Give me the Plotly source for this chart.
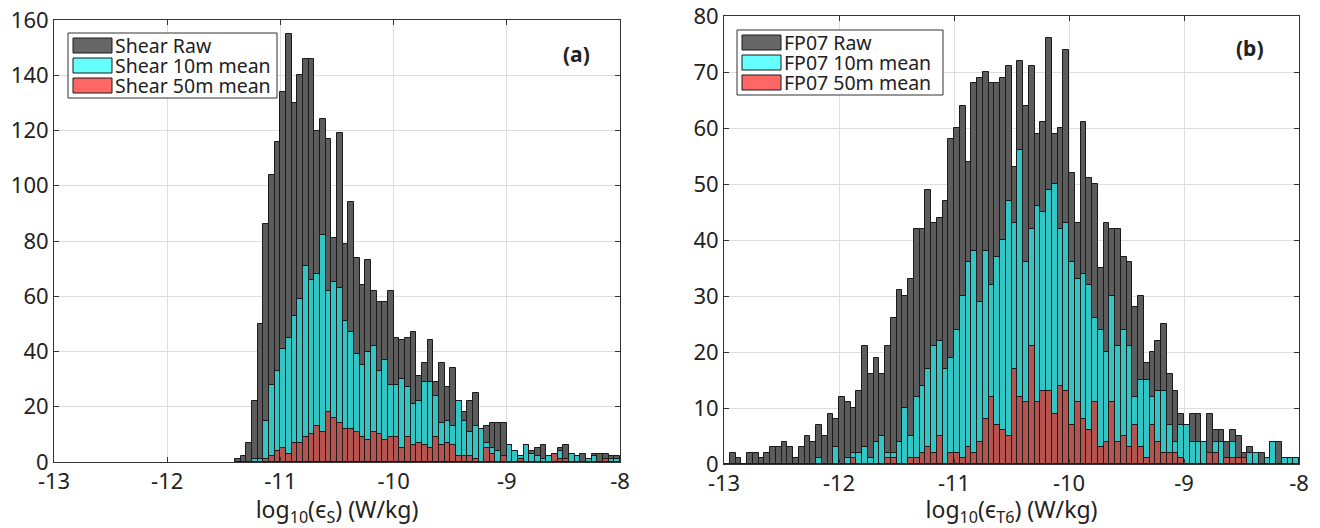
import plotly.graph_objects as go

BIN = 0.05

# panel (a): shear, bins start at -11.40
A_START = -11.40
shear_raw = [1, 2, 7, 22, 50, 86, 104, 116, 134, 155,
             130, 140, 146, 146, 120, 124, 117, 81, 119, 79,
             94, 74, 64, 73, 62, 58, 58, 62, 45, 44,
             45, 47, 31, 36, 44, 29, 36, 27, 34, 22,
             18, 22, 25, 12, 13, 14, 14, 14, 6, 4,
             2, 6, 4, 5, 6, 2, 3, 5, 6, 3,
             2, 3, 1, 3, 3, 3, 2, 2]
shear_10m = [0, 0, 0, 1, 1, 15, 28, 33, 41, 45,
             53, 59, 71, 66, 68, 82, 62, 65, 63, 51,
             47, 39, 35, 40, 42, 33, 37, 28, 28, 30,
             27, 21, 22, 29, 29, 24, 14, 15, 13, 22,
             15, 11, 13, 12, 7, 5, 4, 2, 6, 4,
             2, 6, 3, 2, 1, 2, 1, 4, 0, 3,
             2, 0, 1, 2, 0, 1, 1, 1]
shear_50m = [0, 0, 0, 0, 0, 1, 2, 4, 5, 3,
             7, 7, 9, 10, 13, 11, 18, 16, 14, 12,
             12, 11, 9, 8, 11, 10, 8, 9, 9, 5,
             9, 6, 7, 6, 5, 9, 6, 7, 6, 2,
             2, 2, 1, 0, 5, 3, 0, 2, 0, 0,
             1, 0, 0, 0, 0, 0, 3, 1, 1, 0,
             0, 0, 0, 0, 0, 1, 0, 0]

# panel (b): FP07, bins start at -13.00
B_START = -13.00
fp_raw = [0, 2, 1, 0, 2, 2, 1, 2, 3, 3,
          4, 3, 1, 3, 5, 4, 7, 5, 9, 8,
          12, 11, 10, 13, 21, 16, 19, 16, 21, 26,
          31, 30, 33, 42, 42, 49, 43, 44, 47, 58,
          60, 64, 54, 68, 69, 70, 68, 68, 69, 71,
          53, 72, 64, 71, 59, 61, 76, 59, 60, 74,
          52, 43, 61, 51, 50, 35, 43, 42, 42, 37,
          36, 28, 30, 18, 20, 22, 25, 16, 13, 9,
          7, 9, 9, 4, 9, 6, 6, 4, 6, 5,
          2, 3, 2, 2, 1, 4, 4, 1, 1, 1]
fp_10m = [0, 0, 0, 0, 0, 0, 0, 0, 0, 0,
          0, 0, 0, 0, 0, 0, 1, 0, 0, 3,
          0, 1, 2, 2, 3, 1, 4, 5, 2, 2,
          4, 10, 5, 12, 14, 17, 21, 22, 17, 19,
          24, 30, 36, 38, 29, 38, 32, 37, 40, 47,
          43, 56, 36, 42, 46, 45, 49, 50, 42, 43,
          36, 33, 34, 32, 26, 24, 20, 30, 21, 24,
          21, 12, 15, 15, 12, 13, 13, 7, 4, 7,
          7, 4, 4, 4, 2, 4, 4, 0, 4, 0,
          0, 2, 2, 0, 1, 4, 0, 1, 1, 1]
fp_50m = [0, 0, 0, 0, 0, 0, 0, 0, 0, 0,
          0, 0, 0, 0, 0, 0, 0, 0, 0, 0,
          0, 0, 1, 0, 0, 0, 0, 0, 1, 1,
          0, 0, 1, 1, 2, 3, 2, 5, 0, 2,
          2, 1, 3, 2, 4, 8, 12, 7, 6, 5,
          17, 12, 11, 21, 11, 13, 13, 9, 14, 13,
          7, 11, 8, 6, 11, 3, 4, 11, 4, 5,
          3, 7, 3, 1, 7, 4, 2, 2, 2, 1,
          0, 0, 0, 0, 2, 2, 0, 1, 1, 1,
          1, 0, 0, 0, 0, 0, 0, 0, 0, 0]

LABELS_A = ['Shear Raw', 'Shear 10m mean', 'Shear 50m mean']
LABELS_B = ['FP07 Raw', 'FP07 10m mean', 'FP07 50m mean']

X_TICKS = [-13, -12, -11, -10, -9, -8]
X_TICKTEXT = ['-13', '-12', '-11', '-10', '-9', '-8']

BAR_COLORS = ['#5c5c5c', '#33c4c4', '#b5534f']
LEG_COLORS = ['#666666', '#66ffff', '#ff6666']
FONT = 'Noto Sans'
INK = '#222222'

# figure geometry (pixels)
W, H = 1320, 528
ML, MR, MT, MB = 54, 21, 16, 64


def px(x):
    return (x - ML) / (W - ML - MR)


def py(y):
    return (H - MB - y) / (H - MT - MB)


def centers(start, n):
    return [round(start + BIN * (i + 0.5), 4) for i in range(n)]


fig = go.Figure()

for vals, col, name in zip([shear_raw, shear_10m, shear_50m], BAR_COLORS, LABELS_A):
    fig.add_trace(go.Bar(x=centers(A_START, len(vals)), y=vals, width=BIN, name=name,
                         marker=dict(color=col, line=dict(color='#1a1a1a', width=1)),
                         xaxis='x', yaxis='y', showlegend=False))
for vals, col, name in zip([fp_raw, fp_10m, fp_50m], BAR_COLORS, LABELS_B):
    fig.add_trace(go.Bar(x=centers(B_START, len(vals)), y=vals, width=BIN, name=name,
                         marker=dict(color=col, line=dict(color='#1a1a1a', width=1)),
                         xaxis='x2', yaxis='y2', showlegend=False))

axis_common = dict(
    showline=True, linecolor='#333333', linewidth=1, mirror='ticks',
    ticks='inside', ticklen=5, tickcolor='#333333',
    showgrid=True, gridcolor='#dedede', gridwidth=1, zeroline=False,
    automargin=False, ticklabeloverflow='allow',
    tickfont=dict(family=FONT, size=22, color=INK),
)
title_font = dict(family=FONT, size=23, color=INK)

fig.update_layout(
    width=W, height=H,
    margin=dict(l=ML, r=MR, t=MT, b=MB),
    paper_bgcolor='white', plot_bgcolor='white',
    barmode='overlay', bargap=0,
    font=dict(family=FONT, color=INK),
    xaxis=dict(domain=[0, px(620)], range=[-13, -8], tickvals=X_TICKS, ticktext=X_TICKTEXT,
               title=dict(text='log<sub>10</sub>(ϵ<sub>S</sub>) (W/kg)', font=title_font, standoff=0),
               **axis_common),
    yaxis=dict(domain=[py(462), py(20)], range=[0, 160], dtick=20, anchor='x',
               **axis_common),
    xaxis2=dict(domain=[px(724), 1], range=[-13, -8], tickvals=X_TICKS, ticktext=X_TICKTEXT,
                anchor='y2',
                title=dict(text='log<sub>10</sub>(ϵ<sub>T6</sub>) (W/kg)', font=title_font, standoff=0),
                **axis_common),
    yaxis2=dict(domain=[py(464), py(16)], range=[0, 80.001], dtick=10, anchor='x2',
                **axis_common),
)

# hand-drawn legends, MATLAB style
shapes = []
annotations = []
legend_specs = [
    (LABELS_A, 68, 277, 33, 98, 73, 112, 38),
    (LABELS_B, 737, 943, 30, 95, 742, 781, 35),
]
for labels, x0, x1, y0, y1, sx0, sx1, sy in legend_specs:
    shapes.append(dict(type='rect', xref='paper', yref='paper',
                       x0=px(x0), x1=px(x1), y0=py(y1), y1=py(y0),
                       line=dict(color='#333333', width=1), fillcolor='white', layer='above'))
    for i, (lab, col) in enumerate(zip(labels, LEG_COLORS)):
        top = sy + 20 * i
        shapes.append(dict(type='rect', xref='paper', yref='paper',
                           x0=px(sx0), x1=px(sx1), y0=py(top + 15), y1=py(top),
                           line=dict(color='#1a1a1a', width=1), fillcolor=col, layer='above'))
        annotations.append(dict(text=lab, xref='paper', yref='paper',
                                x=px(sx1 + 1), y=py(top + 7.5), xanchor='left', yanchor='middle',
                                showarrow=False, font=dict(family=FONT, size=19.5, color=INK)))

annotations.append(dict(text='<b>(a)</b>', xref='paper', yref='paper', x=px(576), y=py(54),
                        xanchor='center', yanchor='middle', showarrow=False,
                        font=dict(family=FONT, size=21, color=INK)))
annotations.append(dict(text='<b>(b)</b>', xref='paper', yref='paper', x=px(1250), y=py(48),
                        xanchor='center', yanchor='middle', showarrow=False,
                        font=dict(family=FONT, size=21, color=INK)))

fig.update_layout(shapes=shapes, annotations=annotations)

# page body has a default 8px margin; drop it so the figure fills the window exactly
fig.write_html("out.html", config={'displayModeBar': False},
               post_script="document.body.style.margin='0';")
